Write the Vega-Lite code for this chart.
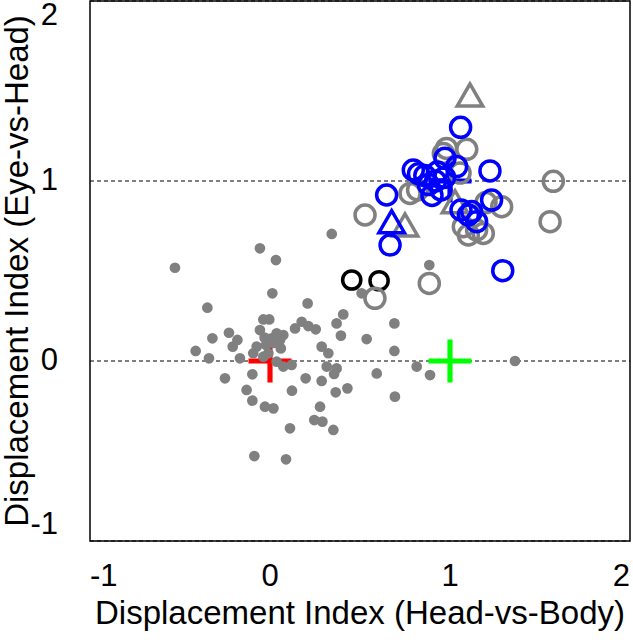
{
  "$schema": "https://vega.github.io/schema/vega-lite/v6.json",
  "width": 540,
  "height": 540,
  "autosize": {"type": "none"},
  "padding": {"left": 90, "top": 1, "right": 3, "bottom": 99},
  "config": {
    "font": "Liberation Sans",
    "view": {"stroke": "black", "strokeWidth": 1.5},
    "axis": {
      "domain": false, "ticks": false, "grid": true,
      "gridColor": "black", "gridDash": [4, 3], "gridWidth": 1, "gridOpacity": 1,
      "labelFontSize": 31, "labelColor": "black", "titleFontSize": 33,
      "titleFontWeight": "normal", "titleColor": "black"
    }
  },
  "datasets": {
    "pts": [
      {"k": "dot", "x": 0.343, "y": 0.706}, {"k": "dot", "x": -0.056, "y": 0.626}, {"k": "dot", "x": 0.033, "y": 0.561},
      {"k": "dot", "x": -0.528, "y": 0.518}, {"k": "dot", "x": 0.013, "y": 0.376}, {"k": "dot", "x": -0.348, "y": 0.296},
      {"k": "dot", "x": 0.209, "y": 0.32}, {"k": "dot", "x": 0.407, "y": 0.259}, {"k": "dot", "x": 0.37, "y": 0.209},
      {"k": "dot", "x": 0.394, "y": 0.141}, {"k": "dot", "x": 0.537, "y": 0.122}, {"k": "dot", "x": 0.691, "y": 0.209},
      {"k": "dot", "x": 0.691, "y": 0.056}, {"k": "dot", "x": 0.694, "y": -0.198}, {"k": "dot", "x": 0.593, "y": -0.069},
      {"k": "dot", "x": -0.037, "y": 0.231}, {"k": "dot", "x": -0.004, "y": 0.231}, {"k": "dot", "x": -0.056, "y": 0.172},
      {"k": "dot", "x": 0.037, "y": 0.154}, {"k": "dot", "x": 0.074, "y": 0.144}, {"k": "dot", "x": 0.176, "y": 0.218},
      {"k": "dot", "x": 0.139, "y": 0.181}, {"k": "dot", "x": 0.213, "y": 0.194}, {"k": "dot", "x": 0.254, "y": 0.176},
      {"k": "dot", "x": -0.228, "y": 0.157}, {"k": "dot", "x": -0.32, "y": 0.126}, {"k": "dot", "x": -0.181, "y": 0.117},
      {"k": "dot", "x": -0.207, "y": 0.08}, {"k": "dot", "x": -0.413, "y": 0.056}, {"k": "dot", "x": -0.339, "y": 0.015},
      {"k": "dot", "x": -0.167, "y": 0.015}, {"k": "dot", "x": -0.074, "y": 0.08}, {"k": "dot", "x": -0.022, "y": 0.089},
      {"k": "dot", "x": 0.009, "y": 0.126}, {"k": "dot", "x": 0.056, "y": 0.117}, {"k": "dot", "x": -0.093, "y": 0.043},
      {"k": "dot", "x": -0.037, "y": 0.024}, {"k": "dot", "x": -0.009, "y": 0.043}, {"k": "dot", "x": 0.037, "y": -0.004},
      {"k": "dot", "x": 0.074, "y": -0.031}, {"k": "dot", "x": 0.12, "y": -0.022}, {"k": "dot", "x": 0.287, "y": 0.08},
      {"k": "dot", "x": 0.324, "y": 0.043}, {"k": "dot", "x": 0.315, "y": -0.031}, {"k": "dot", "x": 0.37, "y": -0.041},
      {"k": "dot", "x": 0.356, "y": -0.072}, {"k": "dot", "x": -0.25, "y": -0.096}, {"k": "dot", "x": -0.098, "y": -0.074},
      {"k": "dot", "x": 0.198, "y": -0.096}, {"k": "dot", "x": 0.287, "y": -0.111}, {"k": "dot", "x": -0.13, "y": -0.161},
      {"k": "dot", "x": 0.122, "y": -0.165}, {"k": "dot", "x": 0.365, "y": -0.174}, {"k": "dot", "x": 0.43, "y": -0.152},
      {"k": "dot", "x": -0.098, "y": -0.22}, {"k": "dot", "x": -0.028, "y": -0.254}, {"k": "dot", "x": 0.019, "y": -0.263},
      {"k": "dot", "x": 0.278, "y": -0.254}, {"k": "dot", "x": 0.246, "y": -0.328}, {"k": "dot", "x": 0.291, "y": -0.337},
      {"k": "dot", "x": 0.111, "y": -0.374}, {"k": "dot", "x": 0.352, "y": -0.383}, {"k": "dot", "x": -0.087, "y": -0.528},
      {"k": "dot", "x": 0.089, "y": -0.546}, {"k": "dot", "x": 0.509, "y": 0.376}, {"k": "dot", "x": 0.885, "y": 0.533},
      {"k": "dot", "x": 0.815, "y": -0.031}, {"k": "dot", "x": 0.889, "y": -0.078}, {"k": "dot", "x": 1.361, "y": 0.0},
      {"k": "dot", "x": 0.02, "y": 0.1}, {"k": "dot", "x": -0.03, "y": 0.13}, {"k": "dot", "x": 0.06, "y": 0.07},
      {"k": "gc", "x": 1.093, "y": 1.176}, {"k": "gc", "x": 0.963, "y": 1.153}, {"k": "gc", "x": 0.528, "y": 0.811},
      {"k": "gc", "x": 0.778, "y": 0.931}, {"k": "gc", "x": 1.287, "y": 0.857}, {"k": "gc", "x": 1.102, "y": 0.7},
      {"k": "gc", "x": 1.185, "y": 0.709}, {"k": "gc", "x": 1.574, "y": 0.998}, {"k": "gc", "x": 1.556, "y": 0.774},
      {"k": "gc", "x": 0.885, "y": 0.431}, {"k": "gc", "x": 0.583, "y": 0.348}, {"k": "gc", "x": 0.981, "y": 1.181},
      {"k": "gc", "x": 1.056, "y": 1.044}, {"k": "gc", "x": 1.148, "y": 0.728}, {"k": "gc", "x": 1.074, "y": 0.746},
      {"k": "gc", "x": 0.82, "y": 0.95}, {"k": "gc", "x": 1.2, "y": 0.88},
      {"k": "bk", "x": 0.454, "y": 0.45}, {"k": "bk", "x": 0.606, "y": 0.446},
      {"k": "gt", "x": 1.111, "y": 1.478}, {"k": "gt", "x": 0.75, "y": 0.756}, {"k": "gt", "x": 1.028, "y": 0.885},
      {"k": "bc", "x": 1.059, "y": 1.298}, {"k": "bc", "x": 1.222, "y": 1.056}, {"k": "bc", "x": 0.796, "y": 1.061},
      {"k": "bc", "x": 0.825, "y": 1.04}, {"k": "bc", "x": 0.972, "y": 1.126}, {"k": "bc", "x": 1.037, "y": 1.08},
      {"k": "bc", "x": 0.648, "y": 0.922}, {"k": "bc", "x": 1.231, "y": 0.894}, {"k": "bc", "x": 1.12, "y": 0.83},
      {"k": "bc", "x": 0.667, "y": 0.644}, {"k": "bc", "x": 1.293, "y": 0.502}, {"k": "bc", "x": 1.102, "y": 0.811},
      {"k": "bc", "x": 1.148, "y": 0.774}, {"k": "bc", "x": 1.061, "y": 0.839}, {"k": "bc", "x": 0.92, "y": 1.0},
      {"k": "bc", "x": 0.95, "y": 0.95}, {"k": "bc", "x": 0.88, "y": 0.98}, {"k": "bc", "x": 0.93, "y": 1.05},
      {"k": "bc", "x": 0.9, "y": 0.92}, {"k": "bc", "x": 0.97, "y": 1.02}, {"k": "bc", "x": 0.86, "y": 1.03},
      {"k": "bt", "x": 0.676, "y": 0.774},
      {"k": "bs", "x": 0.9, "y": 0.83}
    ],
    "refs": [
      {"label": "Eye-centered", "x": 1, "y": 1},
      {"label": "Head-centered", "x": 1, "y": 0},
      {"label": "Body-centered", "x": 0, "y": 0}
    ],
    "leg": [
      {"label": "Eye-centered", "x": -0.822, "y": 1.839},
      {"label": "Head-centered", "x": -0.822, "y": 1.6},
      {"label": "Body-centered", "x": -0.822, "y": 1.378}
    ],
    "vgrid": [
      {"x": 0},
      {"x": 1}
    ]
  },
  "encoding": {
    "x": {"field": "x", "type": "quantitative",
      "scale": {"domain": [-1, 2], "nice": false, "zero": false},
      "axis": {"orient": "bottom", "grid": false, "values": [-1, 0, 1, 2], "title": "Displacement Index (Head-vs-Body)",
        "labelPadding": 561, "labelFlush": true,
        "titleX": 270, "titleY": 613, "titleAlign": "center", "titleBaseline": "middle",
        "labelExpr": "replace(datum.label, '\u2212', '-')"}},
    "y": {"field": "y", "type": "quantitative",
      "scale": {"domain": [-1, 2], "nice": false, "zero": false},
      "axis": {"orient": "left", "values": [-1, 0, 1, 2], "title": "Displacement Index (Eye-vs-Head)",
        "labelPadding": 32, "labelFlush": true,
        "titleX": -72, "titleY": 270, "titleAlign": "center", "titleBaseline": "middle", "titleAngle": -90,
        "labelExpr": "replace(datum.label, '\u2212', '-')"}},
    "color": {"field": "label", "type": "nominal",
      "scale": {"domain": ["Eye-centered", "Head-centered", "Body-centered"], "range": ["#0000ff", "#00ff00", "#ff0000"]},
      "legend": null}
  },
  "layer": [
    {
      "data": {"name": "vgrid"},
      "mark": {"type": "rule", "color": "black", "strokeWidth": 1, "strokeDash": [4, 3]},
      "encoding": {"y": {"datum": -1}, "y2": {"datum": 2}, "color": {"value": "black"}}
    },
    {
      "data": {"name": "refs"},
      "mark": {"type": "point", "filled": true, "opacity": 1, "shape": "M-1,-0.12H-0.12V-1H0.12V-0.12H1V0.12H0.12V1H-0.12V0.12H-1Z", "size": 1849}
    },
    {
      "data": {"name": "pts"},
      "transform": [{"filter": "datum.k === 'dot'"}],
      "mark": {"type": "point", "filled": true, "opacity": 1, "size": 115, "shape": "circle"},
      "encoding": {"color": {"value": "#808080"}}
    },
    {
      "data": {"name": "pts"},
      "transform": [{"filter": "datum.k === 'bk'"}],
      "mark": {"type": "point", "filled": false, "opacity": 1, "size": 330, "strokeWidth": 3.5, "shape": "circle"},
      "encoding": {"color": {"value": "black"}}
    },
    {
      "data": {"name": "pts"},
      "transform": [{"filter": "datum.k === 'gc'"}],
      "mark": {"type": "point", "filled": false, "opacity": 1, "size": 400, "strokeWidth": 3.5, "shape": "circle"},
      "encoding": {"color": {"value": "#808080"}}
    },
    {
      "data": {"name": "pts"},
      "transform": [{"filter": "datum.k === 'gt'"}],
      "mark": {"type": "point", "filled": false, "opacity": 1, "size": 650, "strokeWidth": 3.5, "shape": "triangle-up"},
      "encoding": {"color": {"value": "#808080"}}
    },
    {
      "data": {"name": "pts"},
      "transform": [{"filter": "datum.k === 'bc'"}],
      "mark": {"type": "point", "filled": false, "opacity": 1, "size": 400, "strokeWidth": 3.5, "shape": "circle"},
      "encoding": {"color": {"value": "#0000ff"}}
    },
    {
      "data": {"name": "pts"},
      "transform": [{"filter": "datum.k === 'bt'"}],
      "mark": {"type": "point", "filled": false, "opacity": 1, "size": 650, "strokeWidth": 3.5, "shape": "triangle-up"},
      "encoding": {"color": {"value": "#0000ff"}}
    },
    {
      "data": {"name": "pts"},
      "transform": [{"filter": "datum.k === 'bs'"}],
      "mark": {"type": "point", "filled": true, "opacity": 1, "size": 1700, "shape": "star"},
      "encoding": {"color": {"value": "#0000ff"}}
    },
    {
      "data": {"name": "leg"},
      "mark": {"type": "point", "filled": true, "opacity": 1, "shape": "M-1,-0.1H-0.1V-1H0.1V-0.1H1V0.1H0.1V1H-0.1V0.1H-1Z", "size": 900}
    },
    {
      "data": {"name": "leg"},
      "mark": {"type": "text", "align": "left", "baseline": "middle", "dx": 30, "fontSize": 29, "font": "Liberation Sans"},
      "encoding": {"text": {"field": "label", "type": "nominal"}, "color": {"value": "black"}}
    }
  ]
}
